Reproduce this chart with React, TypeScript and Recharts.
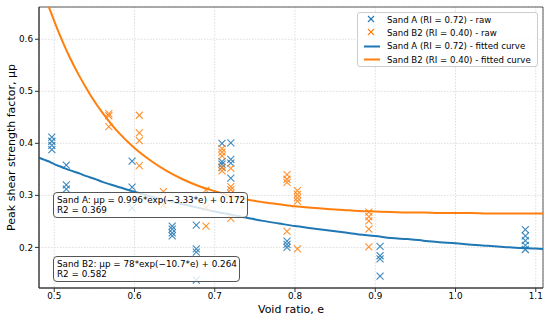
import React from 'react';
import { ComposedChart, Scatter, Line, XAxis, YAxis, CartesianGrid, ReferenceArea, Legend } from 'recharts';

// raw points (void ratio e, peak shear strength factor μp)
const sandAVoid = [
  0.497, 0.497, 0.497, 0.497,
  0.515, 0.515, 0.515,
  0.597, 0.597, 0.597,
  0.647, 0.647, 0.647, 0.647,
  0.677, 0.677, 0.677, 0.677,
  0.709, 0.709, 0.709, 0.709,
  0.72, 0.72, 0.72, 0.72,
  0.79, 0.79, 0.79,
  0.906, 0.906, 0.906, 0.906,
  1.087, 1.087, 1.087, 1.087, 1.087,
];
const sandAMu = [
  0.412, 0.404, 0.396, 0.388,
  0.358, 0.32, 0.312,
  0.366, 0.316, 0.276,
  0.241, 0.235, 0.228, 0.222,
  0.243, 0.197, 0.191, 0.137,
  0.4, 0.365, 0.36, 0.354,
  0.401, 0.369, 0.362, 0.333,
  0.212, 0.206, 0.2,
  0.202, 0.184, 0.178, 0.145,
  0.234, 0.222, 0.213, 0.204, 0.196,
];

const sandB2Void = [
  0.568, 0.568, 0.568,
  0.606, 0.606, 0.606, 0.606,
  0.636, 0.636,
  0.689, 0.689, 0.689,
  0.709, 0.709, 0.709, 0.709, 0.709,
  0.72, 0.72, 0.72, 0.72, 0.72,
  0.79, 0.79, 0.79, 0.79,
  0.803, 0.803, 0.803, 0.803, 0.803,
  0.892, 0.892, 0.892, 0.892, 0.892,
];
const sandB2Mu = [
  0.457, 0.453, 0.432,
  0.454, 0.42, 0.405, 0.357,
  0.307, 0.282,
  0.31, 0.277, 0.241,
  0.39, 0.383, 0.376, 0.354, 0.347,
  0.352, 0.317, 0.311, 0.304, 0.256,
  0.34, 0.331, 0.325, 0.231,
  0.309, 0.302, 0.295, 0.289, 0.197,
  0.268, 0.259, 0.251, 0.235, 0.201,
];

// fitted curves
const curveVoid = [
  0.48, 0.485, 0.49, 0.495, 0.5, 0.51, 0.52, 0.53, 0.54, 0.55, 0.56, 0.57, 0.58,
  0.6, 0.62, 0.64, 0.66, 0.68, 0.7, 0.72, 0.74, 0.76, 0.78, 0.8, 0.82, 0.84,
  0.86, 0.88, 0.9, 0.92, 0.94, 0.96, 0.98, 1.0, 1.02, 1.04, 1.06, 1.08, 1.1, 1.11,
];
const curveA = [
  0.373, 0.37, 0.367, 0.364, 0.36, 0.354, 0.348, 0.343, 0.337, 0.332, 0.326, 0.321, 0.316,
  0.307, 0.298, 0.29, 0.283, 0.276, 0.269, 0.263, 0.257, 0.251, 0.246, 0.241, 0.237, 0.233,
  0.229, 0.225, 0.222, 0.218, 0.216, 0.213, 0.21, 0.208, 0.205, 0.203, 0.201, 0.199, 0.198, 0.197,
];
const curveB2 = [
  0.723, 0.699, 0.676, 0.655, 0.635, 0.597, 0.563, 0.533, 0.506, 0.481, 0.459, 0.439, 0.421,
  0.391, 0.367, 0.347, 0.331, 0.318, 0.308, 0.299, 0.292, 0.287, 0.283, 0.279, 0.276, 0.274,
  0.272, 0.27, 0.269, 0.268, 0.267, 0.267, 0.266, 0.266, 0.266, 0.265, 0.265, 0.265, 0.265, 0.265,
];

const xTicks = [0.5, 0.6, 0.7, 0.8, 0.9, 1.0, 1.1];
const yTicks = [0.2, 0.3, 0.4, 0.5, 0.6];
const xDomain: [number, number] = [0.481, 1.109];
const yDomain: [number, number] = [0.122, 0.662];

const BLUE = '#1f77b4';
const ORANGE = '#ff7f0e';
const FONT = '"DejaVu Sans", sans-serif';

const legendItems = [
  { label: 'Sand A (RI = 0.72) - raw', color: BLUE, kind: 'x' },
  { label: 'Sand B2 (RI = 0.40) - raw', color: ORANGE, kind: 'x' },
  { label: 'Sand A (RI = 0.72) - fitted curve', color: BLUE, kind: 'line' },
  { label: 'Sand B2 (RI = 0.40) - fitted curve', color: ORANGE, kind: 'line' },
];

const pairs = (xs: number[], ys: number[]) => xs.map((e, i) => ({ e, mu: ys[i] }));
const sandA = pairs(sandAVoid, sandAMu);
const sandB2 = pairs(sandB2Void, sandB2Mu);
const fitA = pairs(curveVoid, curveA);
const fitB2 = pairs(curveVoid, curveB2);

const xMark = (color: string) => (p: any) => {
  const { cx, cy } = p;
  const r = 3.5;
  return (
    <g stroke={color} strokeWidth={1.1} opacity={0.85}>
      <line x1={cx - r} y1={cy - r} x2={cx + r} y2={cy + r} />
      <line x1={cx - r} y1={cy + r} x2={cx + r} y2={cy - r} />
    </g>
  );
};

const YLabel = (props: any) => {
  const vb = props.viewBox || { x: 0, y: 7, width: 39, height: 281 };
  const cx = 15;
  const cy = vb.y + vb.height / 2;
  return (
    <text x={cx} y={cy} transform={`rotate(-90, ${cx}, ${cy})`} textAnchor="middle"
      fontSize={11} fontFamily={FONT} fill="#000">
      Peak shear strength factor, μp
    </text>
  );
};

const XLabel = (props: any) => {
  const vb = props.viewBox || { x: 39, y: 288, width: 504, height: 33 };
  return (
    <text x={vb.x + vb.width / 2} y={313} textAnchor="middle" fontSize={11} fontFamily={FONT} fill="#000">
      Void ratio, e
    </text>
  );
};

const LegendBox = () => (
  <div style={{
    border: '1px solid #cccccc', borderRadius: 3, background: 'rgba(255,255,255,0.85)',
    width: 179, fontFamily: FONT, fontSize: 8.6, color: '#000',
  }}>
    {legendItems.map((it) => (
      <div key={it.label} style={{ display: 'flex', alignItems: 'center', height: 13.3 }}>
        <svg width={29} height={13} style={{ flex: 'none' }}>
          {it.kind === 'x' ? (
            <g stroke={it.color} strokeWidth={1.1}>
              <line x1={10} y1={3} x2={16} y2={9} />
              <line x1={10} y1={9} x2={16} y2={3} />
            </g>
          ) : (
            <line x1={6} y1={6.5} x2={22} y2={6.5} stroke={it.color} strokeWidth={2} />
          )}
        </svg>
        <span style={{ whiteSpace: 'nowrap' }}>{it.label}</span>
      </div>
    ))}
  </div>
);

const noteStyle: React.CSSProperties = {
  position: 'absolute', left: 53, border: '1px solid #555', borderRadius: 4,
  background: 'rgba(255,255,255,0.8)', fontFamily: FONT, fontSize: 8.8, lineHeight: '10px',
  padding: '2px 2px 2px 3px', color: '#000', whiteSpace: 'nowrap',
};

export default function App() {
  return (
    <div style={{ position: 'absolute', left: 0, top: 0, width: 550, height: 321, background: '#fff' }}>
      <ComposedChart width={550} height={321} margin={{ top: 7, right: 7, bottom: 0, left: 0 }}>
        <CartesianGrid stroke="#dddddd" strokeDasharray="1.5 1.5" />
        <XAxis type="number" dataKey="e" domain={xDomain} ticks={xTicks} allowDataOverflow
          height={33} tickSize={4} tickMargin={1} stroke="#333" tickFormatter={(v) => v.toFixed(1)}
          tick={{ fontSize: 8.8, fontFamily: FONT, fill: '#000' }} label={<XLabel />} />
        <YAxis type="number" dataKey="mu" domain={yDomain} ticks={yTicks} allowDataOverflow
          width={39} tickSize={4} tickMargin={2} stroke="#333" tickFormatter={(v) => v.toFixed(1)}
          tick={{ fontSize: 8.8, fontFamily: FONT, fill: '#000' }} label={<YLabel />} />
        <ReferenceArea x1={xDomain[0]} x2={xDomain[1]} y1={yDomain[0]} y2={yDomain[1]}
          fill="none" stroke="#333" strokeWidth={0.8} />
        <Scatter name="Sand A (RI = 0.72) - raw" data={sandA} dataKey="mu" shape={xMark(BLUE)} isAnimationActive={false} />
        <Scatter name="Sand B2 (RI = 0.40) - raw" data={sandB2} dataKey="mu" shape={xMark(ORANGE)} isAnimationActive={false} />
        <Line name="Sand A (RI = 0.72) - fitted curve" data={fitA} dataKey="mu" type="monotone"
          stroke={BLUE} strokeWidth={2} dot={false} isAnimationActive={false} />
        <Line name="Sand B2 (RI = 0.40) - fitted curve" data={fitB2} dataKey="mu" type="monotone"
          stroke={ORANGE} strokeWidth={2} dot={false} isAnimationActive={false} />
        <Legend layout="vertical" align="center" verticalAlign="middle" content={<LegendBox />}
          wrapperStyle={{ left: 357, top: 12, width: 181, height: 'auto' }} />
      </ComposedChart>
      <div style={{ ...noteStyle, top: 192 }}>
        <div>Sand A: μp = 0.996*exp(−3.33*e) + 0.172</div>
        <div>R2 = 0.369</div>
      </div>
      <div style={{ ...noteStyle, top: 256 }}>
        <div>Sand B2: μp = 78*exp(−10.7*e) + 0.264</div>
        <div>R2 = 0.582</div>
      </div>
    </div>
  );
}
